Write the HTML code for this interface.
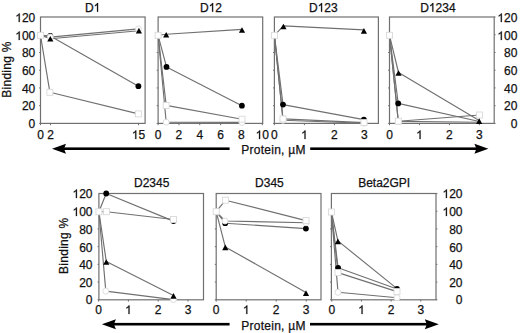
<!DOCTYPE html>
<html><head><meta charset="utf-8"><style>
html,body{margin:0;padding:0;background:#fff;}
svg{display:block;}
text{font-family:"Liberation Sans", sans-serif;fill:#111;stroke:#111;stroke-width:0.25px;}
</style></head><body>
<svg width="520" height="333" viewBox="0 0 520 333">
<rect x="40.5" y="17.0" width="104.60" height="106.40" fill="none" stroke="#707070" stroke-width="1.2"/>
<line x1="40.50" y1="123.4" x2="40.50" y2="125.2" stroke="#707070" stroke-width="1"/>
<text x="40.5" y="139.0" font-size="12" text-anchor="middle" >0</text>
<line x1="50.50" y1="123.4" x2="50.50" y2="125.2" stroke="#707070" stroke-width="1"/>
<text x="50.5" y="139.0" font-size="12" text-anchor="middle" >2</text>
<line x1="138.50" y1="123.4" x2="138.50" y2="125.2" stroke="#707070" stroke-width="1"/>
<text x="131.826" y="139.0" font-size="12" > 5</text>
<path transform="translate(131.826,139.0) scale(0.005859,-0.005859)" d="M763,0 L583,0 L583,1147 Q420,1000 222,938 L222,1112 Q500,1240 620,1466 L763,1466 Z" fill="#111" stroke="#111" stroke-width="42.7"/>
<line x1="39.1" y1="123.40" x2="40.5" y2="123.40" stroke="#707070" stroke-width="1"/>
<line x1="39.1" y1="105.67" x2="40.5" y2="105.67" stroke="#707070" stroke-width="1"/>
<line x1="39.1" y1="87.93" x2="40.5" y2="87.93" stroke="#707070" stroke-width="1"/>
<line x1="39.1" y1="70.20" x2="40.5" y2="70.20" stroke="#707070" stroke-width="1"/>
<line x1="39.1" y1="52.47" x2="40.5" y2="52.47" stroke="#707070" stroke-width="1"/>
<line x1="39.1" y1="34.73" x2="40.5" y2="34.73" stroke="#707070" stroke-width="1"/>
<text x="84.930" y="11.7" font-size="12" >D </text>
<path transform="translate(93.596,11.7) scale(0.005859,-0.005859)" d="M763,0 L583,0 L583,1147 Q420,1000 222,938 L222,1112 Q500,1240 620,1466 L763,1466 Z" fill="#111" stroke="#111" stroke-width="42.7"/>
<rect x="158.1" y="17.0" width="104.60" height="106.40" fill="none" stroke="#707070" stroke-width="1.2"/>
<line x1="158.10" y1="123.4" x2="158.10" y2="125.2" stroke="#707070" stroke-width="1"/>
<text x="158.1" y="139.0" font-size="12" text-anchor="middle" >0</text>
<line x1="178.94" y1="123.4" x2="178.94" y2="125.2" stroke="#707070" stroke-width="1"/>
<text x="178.94" y="139.0" font-size="12" text-anchor="middle" >2</text>
<line x1="199.78" y1="123.4" x2="199.78" y2="125.2" stroke="#707070" stroke-width="1"/>
<text x="199.78" y="139.0" font-size="12" text-anchor="middle" >4</text>
<line x1="220.62" y1="123.4" x2="220.62" y2="125.2" stroke="#707070" stroke-width="1"/>
<text x="220.62" y="139.0" font-size="12" text-anchor="middle" >6</text>
<line x1="241.46" y1="123.4" x2="241.46" y2="125.2" stroke="#707070" stroke-width="1"/>
<text x="241.46" y="139.0" font-size="12" text-anchor="middle" >8</text>
<line x1="262.30" y1="123.4" x2="262.30" y2="125.2" stroke="#707070" stroke-width="1"/>
<text x="255.626" y="139.0" font-size="12" > 0</text>
<path transform="translate(255.626,139.0) scale(0.005859,-0.005859)" d="M763,0 L583,0 L583,1147 Q420,1000 222,938 L222,1112 Q500,1240 620,1466 L763,1466 Z" fill="#111" stroke="#111" stroke-width="42.7"/>
<line x1="156.7" y1="123.40" x2="158.1" y2="123.40" stroke="#707070" stroke-width="1"/>
<line x1="156.7" y1="105.67" x2="158.1" y2="105.67" stroke="#707070" stroke-width="1"/>
<line x1="156.7" y1="87.93" x2="158.1" y2="87.93" stroke="#707070" stroke-width="1"/>
<line x1="156.7" y1="70.20" x2="158.1" y2="70.20" stroke="#707070" stroke-width="1"/>
<line x1="156.7" y1="52.47" x2="158.1" y2="52.47" stroke="#707070" stroke-width="1"/>
<line x1="156.7" y1="34.73" x2="158.1" y2="34.73" stroke="#707070" stroke-width="1"/>
<text x="199.993" y="11.7" font-size="12" >D 2</text>
<path transform="translate(208.659,11.7) scale(0.005859,-0.005859)" d="M763,0 L583,0 L583,1147 Q420,1000 222,938 L222,1112 Q500,1240 620,1466 L763,1466 Z" fill="#111" stroke="#111" stroke-width="42.7"/>
<rect x="274.4" y="17.0" width="104.00" height="106.40" fill="none" stroke="#707070" stroke-width="1.2"/>
<line x1="274.40" y1="123.4" x2="274.40" y2="125.2" stroke="#707070" stroke-width="1"/>
<text x="274.4" y="139.0" font-size="12" text-anchor="middle" >0</text>
<line x1="304.40" y1="123.4" x2="304.40" y2="125.2" stroke="#707070" stroke-width="1"/>
<text x="301.063" y="139.0" font-size="12" > </text>
<path transform="translate(301.063,139.0) scale(0.005859,-0.005859)" d="M763,0 L583,0 L583,1147 Q420,1000 222,938 L222,1112 Q500,1240 620,1466 L763,1466 Z" fill="#111" stroke="#111" stroke-width="42.7"/>
<line x1="334.40" y1="123.4" x2="334.40" y2="125.2" stroke="#707070" stroke-width="1"/>
<text x="334.4" y="139.0" font-size="12" text-anchor="middle" >2</text>
<line x1="364.40" y1="123.4" x2="364.40" y2="125.2" stroke="#707070" stroke-width="1"/>
<text x="364.4" y="139.0" font-size="12" text-anchor="middle" >3</text>
<line x1="273.0" y1="123.40" x2="274.4" y2="123.40" stroke="#707070" stroke-width="1"/>
<line x1="273.0" y1="105.67" x2="274.4" y2="105.67" stroke="#707070" stroke-width="1"/>
<line x1="273.0" y1="87.93" x2="274.4" y2="87.93" stroke="#707070" stroke-width="1"/>
<line x1="273.0" y1="70.20" x2="274.4" y2="70.20" stroke="#707070" stroke-width="1"/>
<line x1="273.0" y1="52.47" x2="274.4" y2="52.47" stroke="#707070" stroke-width="1"/>
<line x1="273.0" y1="34.73" x2="274.4" y2="34.73" stroke="#707070" stroke-width="1"/>
<text x="308.956" y="11.7" font-size="12" >D 23</text>
<path transform="translate(317.622,11.7) scale(0.005859,-0.005859)" d="M763,0 L583,0 L583,1147 Q420,1000 222,938 L222,1112 Q500,1240 620,1466 L763,1466 Z" fill="#111" stroke="#111" stroke-width="42.7"/>
<rect x="389.5" y="17.0" width="104.70" height="106.40" fill="none" stroke="#707070" stroke-width="1.2"/>
<line x1="389.50" y1="123.4" x2="389.50" y2="125.2" stroke="#707070" stroke-width="1"/>
<text x="389.5" y="139.0" font-size="12" text-anchor="middle" >0</text>
<line x1="419.45" y1="123.4" x2="419.45" y2="125.2" stroke="#707070" stroke-width="1"/>
<text x="416.113" y="139.0" font-size="12" > </text>
<path transform="translate(416.113,139.0) scale(0.005859,-0.005859)" d="M763,0 L583,0 L583,1147 Q420,1000 222,938 L222,1112 Q500,1240 620,1466 L763,1466 Z" fill="#111" stroke="#111" stroke-width="42.7"/>
<line x1="449.40" y1="123.4" x2="449.40" y2="125.2" stroke="#707070" stroke-width="1"/>
<text x="449.4" y="139.0" font-size="12" text-anchor="middle" >2</text>
<line x1="479.35" y1="123.4" x2="479.35" y2="125.2" stroke="#707070" stroke-width="1"/>
<text x="479.35" y="139.0" font-size="12" text-anchor="middle" >3</text>
<line x1="388.1" y1="123.40" x2="389.5" y2="123.40" stroke="#707070" stroke-width="1"/>
<line x1="494.2" y1="123.40" x2="495.59999999999997" y2="123.40" stroke="#707070" stroke-width="1"/>
<line x1="388.1" y1="105.67" x2="389.5" y2="105.67" stroke="#707070" stroke-width="1"/>
<line x1="494.2" y1="105.67" x2="495.59999999999997" y2="105.67" stroke="#707070" stroke-width="1"/>
<line x1="388.1" y1="87.93" x2="389.5" y2="87.93" stroke="#707070" stroke-width="1"/>
<line x1="494.2" y1="87.93" x2="495.59999999999997" y2="87.93" stroke="#707070" stroke-width="1"/>
<line x1="388.1" y1="70.20" x2="389.5" y2="70.20" stroke="#707070" stroke-width="1"/>
<line x1="494.2" y1="70.20" x2="495.59999999999997" y2="70.20" stroke="#707070" stroke-width="1"/>
<line x1="388.1" y1="52.47" x2="389.5" y2="52.47" stroke="#707070" stroke-width="1"/>
<line x1="494.2" y1="52.47" x2="495.59999999999997" y2="52.47" stroke="#707070" stroke-width="1"/>
<line x1="388.1" y1="34.73" x2="389.5" y2="34.73" stroke="#707070" stroke-width="1"/>
<line x1="494.2" y1="34.73" x2="495.59999999999997" y2="34.73" stroke="#707070" stroke-width="1"/>
<line x1="494.2" y1="17.00" x2="495.59999999999997" y2="17.00" stroke="#707070" stroke-width="1"/>
<text x="420.219" y="11.7" font-size="12" >D 234</text>
<path transform="translate(428.885,11.7) scale(0.005859,-0.005859)" d="M763,0 L583,0 L583,1147 Q420,1000 222,938 L222,1112 Q500,1240 620,1466 L763,1466 Z" fill="#111" stroke="#111" stroke-width="42.7"/>
<rect x="98.9" y="193.5" width="104.60" height="106.30" fill="none" stroke="#707070" stroke-width="1.2"/>
<line x1="98.60" y1="299.8" x2="98.60" y2="301.6" stroke="#707070" stroke-width="1"/>
<text x="98.6" y="314.0" font-size="12" text-anchor="middle" >0</text>
<line x1="128.40" y1="299.8" x2="128.40" y2="301.6" stroke="#707070" stroke-width="1"/>
<text x="125.063" y="314.0" font-size="12" > </text>
<path transform="translate(125.063,314.0) scale(0.005859,-0.005859)" d="M763,0 L583,0 L583,1147 Q420,1000 222,938 L222,1112 Q500,1240 620,1466 L763,1466 Z" fill="#111" stroke="#111" stroke-width="42.7"/>
<line x1="158.20" y1="299.8" x2="158.20" y2="301.6" stroke="#707070" stroke-width="1"/>
<text x="158.2" y="314.0" font-size="12" text-anchor="middle" >2</text>
<line x1="188.00" y1="299.8" x2="188.00" y2="301.6" stroke="#707070" stroke-width="1"/>
<text x="188.0" y="314.0" font-size="12" text-anchor="middle" >3</text>
<line x1="97.5" y1="299.80" x2="98.9" y2="299.80" stroke="#707070" stroke-width="1"/>
<line x1="97.5" y1="282.08" x2="98.9" y2="282.08" stroke="#707070" stroke-width="1"/>
<line x1="97.5" y1="264.37" x2="98.9" y2="264.37" stroke="#707070" stroke-width="1"/>
<line x1="97.5" y1="246.65" x2="98.9" y2="246.65" stroke="#707070" stroke-width="1"/>
<line x1="97.5" y1="228.93" x2="98.9" y2="228.93" stroke="#707070" stroke-width="1"/>
<line x1="97.5" y1="211.22" x2="98.9" y2="211.22" stroke="#707070" stroke-width="1"/>
<text x="151.7" y="186.9" font-size="12" text-anchor="middle" >D2345</text>
<rect x="216.2" y="193.5" width="104.80" height="106.30" fill="none" stroke="#707070" stroke-width="1.2"/>
<line x1="216.20" y1="299.8" x2="216.20" y2="301.6" stroke="#707070" stroke-width="1"/>
<text x="216.2" y="314.0" font-size="12" text-anchor="middle" >0</text>
<line x1="246.20" y1="299.8" x2="246.20" y2="301.6" stroke="#707070" stroke-width="1"/>
<text x="242.863" y="314.0" font-size="12" > </text>
<path transform="translate(242.863,314.0) scale(0.005859,-0.005859)" d="M763,0 L583,0 L583,1147 Q420,1000 222,938 L222,1112 Q500,1240 620,1466 L763,1466 Z" fill="#111" stroke="#111" stroke-width="42.7"/>
<line x1="276.20" y1="299.8" x2="276.20" y2="301.6" stroke="#707070" stroke-width="1"/>
<text x="276.2" y="314.0" font-size="12" text-anchor="middle" >2</text>
<line x1="306.20" y1="299.8" x2="306.20" y2="301.6" stroke="#707070" stroke-width="1"/>
<text x="306.2" y="314.0" font-size="12" text-anchor="middle" >3</text>
<line x1="214.79999999999998" y1="299.80" x2="216.2" y2="299.80" stroke="#707070" stroke-width="1"/>
<line x1="214.79999999999998" y1="282.08" x2="216.2" y2="282.08" stroke="#707070" stroke-width="1"/>
<line x1="214.79999999999998" y1="264.37" x2="216.2" y2="264.37" stroke="#707070" stroke-width="1"/>
<line x1="214.79999999999998" y1="246.65" x2="216.2" y2="246.65" stroke="#707070" stroke-width="1"/>
<line x1="214.79999999999998" y1="228.93" x2="216.2" y2="228.93" stroke="#707070" stroke-width="1"/>
<line x1="214.79999999999998" y1="211.22" x2="216.2" y2="211.22" stroke="#707070" stroke-width="1"/>
<text x="269.4" y="186.9" font-size="12" text-anchor="middle" >D345</text>
<rect x="331.4" y="193.5" width="104.60" height="106.30" fill="none" stroke="#707070" stroke-width="1.2"/>
<line x1="331.80" y1="299.8" x2="331.80" y2="301.6" stroke="#707070" stroke-width="1"/>
<text x="331.8" y="314.0" font-size="12" text-anchor="middle" >0</text>
<line x1="361.45" y1="299.8" x2="361.45" y2="301.6" stroke="#707070" stroke-width="1"/>
<text x="358.113" y="314.0" font-size="12" > </text>
<path transform="translate(358.113,314.0) scale(0.005859,-0.005859)" d="M763,0 L583,0 L583,1147 Q420,1000 222,938 L222,1112 Q500,1240 620,1466 L763,1466 Z" fill="#111" stroke="#111" stroke-width="42.7"/>
<line x1="391.10" y1="299.8" x2="391.10" y2="301.6" stroke="#707070" stroke-width="1"/>
<text x="391.1" y="314.0" font-size="12" text-anchor="middle" >2</text>
<line x1="420.75" y1="299.8" x2="420.75" y2="301.6" stroke="#707070" stroke-width="1"/>
<text x="420.75" y="314.0" font-size="12" text-anchor="middle" >3</text>
<line x1="330.0" y1="299.80" x2="331.4" y2="299.80" stroke="#707070" stroke-width="1"/>
<line x1="436.0" y1="299.80" x2="437.4" y2="299.80" stroke="#707070" stroke-width="1"/>
<line x1="330.0" y1="282.08" x2="331.4" y2="282.08" stroke="#707070" stroke-width="1"/>
<line x1="436.0" y1="282.08" x2="437.4" y2="282.08" stroke="#707070" stroke-width="1"/>
<line x1="330.0" y1="264.37" x2="331.4" y2="264.37" stroke="#707070" stroke-width="1"/>
<line x1="436.0" y1="264.37" x2="437.4" y2="264.37" stroke="#707070" stroke-width="1"/>
<line x1="330.0" y1="246.65" x2="331.4" y2="246.65" stroke="#707070" stroke-width="1"/>
<line x1="436.0" y1="246.65" x2="437.4" y2="246.65" stroke="#707070" stroke-width="1"/>
<line x1="330.0" y1="228.93" x2="331.4" y2="228.93" stroke="#707070" stroke-width="1"/>
<line x1="436.0" y1="228.93" x2="437.4" y2="228.93" stroke="#707070" stroke-width="1"/>
<line x1="330.0" y1="211.22" x2="331.4" y2="211.22" stroke="#707070" stroke-width="1"/>
<line x1="436.0" y1="211.22" x2="437.4" y2="211.22" stroke="#707070" stroke-width="1"/>
<line x1="436.0" y1="193.50" x2="437.4" y2="193.50" stroke="#707070" stroke-width="1"/>
<text x="384.2" y="186.9" font-size="12" text-anchor="middle" >Beta2GPI</text>
<text x="35.3" y="128.0" font-size="12" text-anchor="end" >0</text>
<text x="517.4" y="128.0" font-size="12" text-anchor="end" >0</text>
<text x="92.5" y="304.0" font-size="12" text-anchor="end" >0</text>
<text x="462.5" y="304.0" font-size="12" text-anchor="end" >0</text>
<text x="35.3" y="110.0" font-size="12" text-anchor="end" >20</text>
<text x="517.4" y="110.0" font-size="12" text-anchor="end" >20</text>
<text x="92.5" y="287.0" font-size="12" text-anchor="end" >20</text>
<text x="462.5" y="287.0" font-size="12" text-anchor="end" >20</text>
<text x="35.3" y="93.0" font-size="12" text-anchor="end" >40</text>
<text x="517.4" y="93.0" font-size="12" text-anchor="end" >40</text>
<text x="92.5" y="269.0" font-size="12" text-anchor="end" >40</text>
<text x="462.5" y="269.0" font-size="12" text-anchor="end" >40</text>
<text x="35.3" y="75.0" font-size="12" text-anchor="end" >60</text>
<text x="517.4" y="75.0" font-size="12" text-anchor="end" >60</text>
<text x="92.5" y="252.0" font-size="12" text-anchor="end" >60</text>
<text x="462.5" y="252.0" font-size="12" text-anchor="end" >60</text>
<text x="35.3" y="57.0" font-size="12" text-anchor="end" >80</text>
<text x="517.4" y="57.0" font-size="12" text-anchor="end" >80</text>
<text x="92.5" y="234.0" font-size="12" text-anchor="end" >80</text>
<text x="462.5" y="234.0" font-size="12" text-anchor="end" >80</text>
<text x="15.279" y="40.0" font-size="12" > 00</text>
<path transform="translate(15.279,40.0) scale(0.005859,-0.005859)" d="M763,0 L583,0 L583,1147 Q420,1000 222,938 L222,1112 Q500,1240 620,1466 L763,1466 Z" fill="#111" stroke="#111" stroke-width="42.7"/>
<text x="497.379" y="40.0" font-size="12" > 00</text>
<path transform="translate(497.379,40.0) scale(0.005859,-0.005859)" d="M763,0 L583,0 L583,1147 Q420,1000 222,938 L222,1112 Q500,1240 620,1466 L763,1466 Z" fill="#111" stroke="#111" stroke-width="42.7"/>
<text x="72.479" y="216.0" font-size="12" > 00</text>
<path transform="translate(72.479,216.0) scale(0.005859,-0.005859)" d="M763,0 L583,0 L583,1147 Q420,1000 222,938 L222,1112 Q500,1240 620,1466 L763,1466 Z" fill="#111" stroke="#111" stroke-width="42.7"/>
<text x="442.479" y="216.0" font-size="12" > 00</text>
<path transform="translate(442.479,216.0) scale(0.005859,-0.005859)" d="M763,0 L583,0 L583,1147 Q420,1000 222,938 L222,1112 Q500,1240 620,1466 L763,1466 Z" fill="#111" stroke="#111" stroke-width="42.7"/>
<text x="15.279" y="22.0" font-size="12" > 20</text>
<path transform="translate(15.279,22.0) scale(0.005859,-0.005859)" d="M763,0 L583,0 L583,1147 Q420,1000 222,938 L222,1112 Q500,1240 620,1466 L763,1466 Z" fill="#111" stroke="#111" stroke-width="42.7"/>
<text x="497.379" y="22.0" font-size="12" > 20</text>
<path transform="translate(497.379,22.0) scale(0.005859,-0.005859)" d="M763,0 L583,0 L583,1147 Q420,1000 222,938 L222,1112 Q500,1240 620,1466 L763,1466 Z" fill="#111" stroke="#111" stroke-width="42.7"/>
<text x="72.479" y="198.0" font-size="12" > 20</text>
<path transform="translate(72.479,198.0) scale(0.005859,-0.005859)" d="M763,0 L583,0 L583,1147 Q420,1000 222,938 L222,1112 Q500,1240 620,1466 L763,1466 Z" fill="#111" stroke="#111" stroke-width="42.7"/>
<text x="442.479" y="198.0" font-size="12" > 20</text>
<path transform="translate(442.479,198.0) scale(0.005859,-0.005859)" d="M763,0 L583,0 L583,1147 Q420,1000 222,938 L222,1112 Q500,1240 620,1466 L763,1466 Z" fill="#111" stroke="#111" stroke-width="42.7"/>
<text transform="translate(11.4,69.5) rotate(-90)" font-size="12" text-anchor="middle" letter-spacing="0.28">Binding %</text>
<text transform="translate(67.9,245.7) rotate(-90)" font-size="12" text-anchor="middle" letter-spacing="0.28">Binding %</text>
<rect x="62.0" y="147.39999999999998" width="167.6" height="2.6" fill="#000"/>
<rect x="310.2" y="147.39999999999998" width="168.2" height="2.6" fill="#000"/>
<path d="M52.0,148.7 L66.0,143.7 L64.0,148.7 L66.0,153.7 Z" fill="#000"/>
<path d="M488.4,148.7 L474.4,143.7 L476.4,148.7 L474.4,153.7 Z" fill="#000"/>
<text x="273.5" y="153.6" font-size="12" text-anchor="middle" letter-spacing="0.27">Protein, µM</text>
<rect x="111.9" y="322.9" width="117.69999999999999" height="2.6" fill="#000"/>
<rect x="310.0" y="322.9" width="118.80000000000001" height="2.6" fill="#000"/>
<path d="M101.9,324.2 L115.9,319.2 L113.9,324.2 L115.9,329.2 Z" fill="#000"/>
<path d="M438.8,324.2 L424.8,319.2 L426.8,324.2 L424.8,329.2 Z" fill="#000"/>
<text x="273.5" y="329.6" font-size="12" text-anchor="middle" letter-spacing="0.27">Protein, µM</text>
<polyline points="40.50,35.30 49.90,92.30 138.40,113.90" fill="none" stroke="#707070" stroke-width="1.15" stroke-linejoin="round"/>
<polyline points="40.50,35.30 50.30,35.90 138.40,86.20" fill="none" stroke="#707070" stroke-width="1.15" stroke-linejoin="round"/>
<polyline points="40.50,35.30 50.30,37.10 138.50,28.90" fill="none" stroke="#707070" stroke-width="1.15" stroke-linejoin="round"/>
<polyline points="40.50,35.30 50.30,38.80 138.90,30.80" fill="none" stroke="#707070" stroke-width="1.15" stroke-linejoin="round"/>
<circle cx="50.3" cy="35.9" r="2.9" fill="#000"/>
<circle cx="138.4" cy="86.2" r="2.9" fill="#000"/>
<circle cx="50.3" cy="37.1" r="3.0" fill="#fff" stroke="#d9d9d9" stroke-width="0.9"/>
<circle cx="138.5" cy="28.9" r="3.0" fill="#fff" stroke="#d9d9d9" stroke-width="0.9"/>
<rect x="46.90" y="89.30" width="6.0" height="6.0" fill="#fff" stroke="#d9d9d9" stroke-width="0.9"/>
<rect x="135.40" y="110.90" width="6.0" height="6.0" fill="#fff" stroke="#d9d9d9" stroke-width="0.9"/>
<path d="M50.30,36.00 L53.40,41.60 L47.20,41.60 Z" fill="#000"/>
<path d="M138.90,27.80 L142.00,33.40 L135.80,33.40 Z" fill="#000"/>
<rect x="37.50" y="32.30" width="6.0" height="6.0" fill="#fff" stroke="#d9d9d9" stroke-width="0.9"/>
<polyline points="158.10,35.30 166.20,105.40 242.00,119.20" fill="none" stroke="#707070" stroke-width="1.15" stroke-linejoin="round"/>
<polyline points="158.10,35.30 166.20,122.20 242.00,122.40" fill="none" stroke="#707070" stroke-width="1.15" stroke-linejoin="round"/>
<polyline points="158.10,35.30 166.50,66.90 241.90,105.70" fill="none" stroke="#707070" stroke-width="1.15" stroke-linejoin="round"/>
<polyline points="158.10,35.30 166.20,34.30 242.00,29.40" fill="none" stroke="#707070" stroke-width="1.15" stroke-linejoin="round"/>
<circle cx="166.5" cy="66.9" r="2.9" fill="#000"/>
<circle cx="241.9" cy="105.7" r="2.9" fill="#000"/>
<circle cx="166.2" cy="122.2" r="3.0" fill="#fff" stroke="#d9d9d9" stroke-width="0.9"/>
<circle cx="242.0" cy="122.4" r="3.0" fill="#fff" stroke="#d9d9d9" stroke-width="0.9"/>
<rect x="163.20" y="102.40" width="6.0" height="6.0" fill="#fff" stroke="#d9d9d9" stroke-width="0.9"/>
<rect x="239.00" y="116.20" width="6.0" height="6.0" fill="#fff" stroke="#d9d9d9" stroke-width="0.9"/>
<path d="M166.20,32.00 L169.30,37.60 L163.10,37.60 Z" fill="#000"/>
<path d="M242.00,27.20 L245.10,32.80 L238.90,32.80 Z" fill="#000"/>
<rect x="155.10" y="32.30" width="6.0" height="6.0" fill="#fff" stroke="#d9d9d9" stroke-width="0.9"/>
<polyline points="274.40,35.30 283.00,118.90 364.00,122.60" fill="none" stroke="#707070" stroke-width="1.15" stroke-linejoin="round"/>
<polyline points="274.40,35.30 283.00,120.30 364.00,123.20" fill="none" stroke="#707070" stroke-width="1.15" stroke-linejoin="round"/>
<polyline points="274.40,35.30 283.00,104.60 363.90,119.60" fill="none" stroke="#707070" stroke-width="1.15" stroke-linejoin="round"/>
<polyline points="274.40,35.30 283.40,25.90 363.90,29.90" fill="none" stroke="#707070" stroke-width="1.15" stroke-linejoin="round"/>
<circle cx="283.0" cy="104.6" r="2.9" fill="#000"/>
<circle cx="363.9" cy="119.6" r="2.9" fill="#000"/>
<circle cx="283.0" cy="120.3" r="3.0" fill="#fff" stroke="#d9d9d9" stroke-width="0.9"/>
<circle cx="364.0" cy="123.2" r="3.0" fill="#fff" stroke="#d9d9d9" stroke-width="0.9"/>
<rect x="280.00" y="115.90" width="6.0" height="6.0" fill="#fff" stroke="#d9d9d9" stroke-width="0.9"/>
<rect x="361.00" y="119.60" width="6.0" height="6.0" fill="#fff" stroke="#d9d9d9" stroke-width="0.9"/>
<path d="M283.40,23.70 L286.50,29.30 L280.30,29.30 Z" fill="#000"/>
<path d="M363.90,28.10 L367.00,33.70 L360.80,33.70 Z" fill="#000"/>
<rect x="271.40" y="32.30" width="6.0" height="6.0" fill="#fff" stroke="#d9d9d9" stroke-width="0.9"/>
<polyline points="389.50,35.30 398.30,121.20 479.60,115.00" fill="none" stroke="#707070" stroke-width="1.15" stroke-linejoin="round"/>
<polyline points="389.50,35.30 398.20,103.40 479.30,121.50" fill="none" stroke="#707070" stroke-width="1.15" stroke-linejoin="round"/>
<polyline points="389.50,35.30 398.30,121.40 479.30,122.30" fill="none" stroke="#707070" stroke-width="1.15" stroke-linejoin="round"/>
<polyline points="389.50,35.30 398.50,72.50 479.20,120.60" fill="none" stroke="#707070" stroke-width="1.15" stroke-linejoin="round"/>
<circle cx="398.2" cy="103.4" r="2.9" fill="#000"/>
<circle cx="398.3" cy="121.4" r="3.0" fill="#fff" stroke="#d9d9d9" stroke-width="0.9"/>
<rect x="395.30" y="118.20" width="6.0" height="6.0" fill="#fff" stroke="#d9d9d9" stroke-width="0.9"/>
<rect x="476.60" y="112.00" width="6.0" height="6.0" fill="#fff" stroke="#d9d9d9" stroke-width="0.9"/>
<path d="M398.50,70.20 L401.60,75.80 L395.40,75.80 Z" fill="#000"/>
<path d="M479.20,118.30 L482.30,123.90 L476.10,123.90 Z" fill="#000"/>
<rect x="386.50" y="32.30" width="6.0" height="6.0" fill="#fff" stroke="#d9d9d9" stroke-width="0.9"/>
<polyline points="98.90,211.80 106.20,193.50 173.50,221.10" fill="none" stroke="#707070" stroke-width="1.15" stroke-linejoin="round"/>
<polyline points="98.90,211.80 106.50,211.70 173.50,219.50" fill="none" stroke="#707070" stroke-width="1.15" stroke-linejoin="round"/>
<polyline points="98.90,211.80 105.80,291.10 173.40,299.60" fill="none" stroke="#707070" stroke-width="1.15" stroke-linejoin="round"/>
<polyline points="98.90,211.80 106.30,261.50 173.50,295.40" fill="none" stroke="#707070" stroke-width="1.15" stroke-linejoin="round"/>
<circle cx="106.2" cy="193.5" r="2.9" fill="#000"/>
<circle cx="173.5" cy="221.1" r="2.9" fill="#000"/>
<circle cx="105.8" cy="291.1" r="3.0" fill="#fff" stroke="#d9d9d9" stroke-width="0.9"/>
<circle cx="173.4" cy="299.6" r="3.0" fill="#fff" stroke="#d9d9d9" stroke-width="0.9"/>
<rect x="103.50" y="208.70" width="6.0" height="6.0" fill="#fff" stroke="#d9d9d9" stroke-width="0.9"/>
<rect x="170.50" y="216.50" width="6.0" height="6.0" fill="#fff" stroke="#d9d9d9" stroke-width="0.9"/>
<path d="M106.30,259.20 L109.40,264.80 L103.20,264.80 Z" fill="#000"/>
<path d="M173.50,293.10 L176.60,298.70 L170.40,298.70 Z" fill="#000"/>
<rect x="95.90" y="208.80" width="6.0" height="6.0" fill="#fff" stroke="#d9d9d9" stroke-width="0.9"/>
<polyline points="216.20,211.70 225.20,223.20 305.90,228.60" fill="none" stroke="#707070" stroke-width="1.15" stroke-linejoin="round"/>
<polyline points="216.20,211.70 225.00,221.00 306.00,222.80" fill="none" stroke="#707070" stroke-width="1.15" stroke-linejoin="round"/>
<polyline points="216.20,211.70 225.50,200.20 306.00,220.60" fill="none" stroke="#707070" stroke-width="1.15" stroke-linejoin="round"/>
<polyline points="216.20,211.70 225.30,246.90 306.00,292.60" fill="none" stroke="#707070" stroke-width="1.15" stroke-linejoin="round"/>
<circle cx="225.2" cy="223.2" r="2.9" fill="#000"/>
<circle cx="305.9" cy="228.6" r="2.9" fill="#000"/>
<circle cx="225.0" cy="221.0" r="3.0" fill="#fff" stroke="#d9d9d9" stroke-width="0.9"/>
<circle cx="306.0" cy="222.8" r="3.0" fill="#fff" stroke="#d9d9d9" stroke-width="0.9"/>
<rect x="222.50" y="197.20" width="6.0" height="6.0" fill="#fff" stroke="#d9d9d9" stroke-width="0.9"/>
<rect x="303.00" y="217.60" width="6.0" height="6.0" fill="#fff" stroke="#d9d9d9" stroke-width="0.9"/>
<path d="M225.30,244.60 L228.40,250.20 L222.20,250.20 Z" fill="#000"/>
<path d="M306.00,290.30 L309.10,295.90 L302.90,295.90 Z" fill="#000"/>
<rect x="213.20" y="208.70" width="6.0" height="6.0" fill="#fff" stroke="#d9d9d9" stroke-width="0.9"/>
<polyline points="331.40,212.00 338.00,292.30 397.00,297.70" fill="none" stroke="#707070" stroke-width="1.15" stroke-linejoin="round"/>
<polyline points="331.40,212.00 338.00,272.60 397.00,291.60" fill="none" stroke="#707070" stroke-width="1.15" stroke-linejoin="round"/>
<polyline points="331.40,212.00 338.10,267.80 397.00,289.00" fill="none" stroke="#707070" stroke-width="1.15" stroke-linejoin="round"/>
<polyline points="331.40,212.00 337.90,240.90 397.00,288.60" fill="none" stroke="#707070" stroke-width="1.15" stroke-linejoin="round"/>
<path d="M337.90,238.60 L341.00,244.20 L334.80,244.20 Z" fill="#000"/>
<circle cx="338.1" cy="267.8" r="2.9" fill="#000"/>
<circle cx="397.0" cy="289.0" r="2.9" fill="#000"/>
<rect x="335.00" y="269.60" width="6.0" height="6.0" fill="#fff" stroke="#d9d9d9" stroke-width="0.9"/>
<rect x="394.00" y="288.60" width="6.0" height="6.0" fill="#fff" stroke="#d9d9d9" stroke-width="0.9"/>
<circle cx="338.0" cy="292.3" r="3.0" fill="#fff" stroke="#d9d9d9" stroke-width="0.9"/>
<circle cx="397.0" cy="297.7" r="3.0" fill="#fff" stroke="#d9d9d9" stroke-width="0.9"/>
<rect x="328.40" y="209.00" width="6.0" height="6.0" fill="#fff" stroke="#d9d9d9" stroke-width="0.9"/>
</svg>
</body></html>
